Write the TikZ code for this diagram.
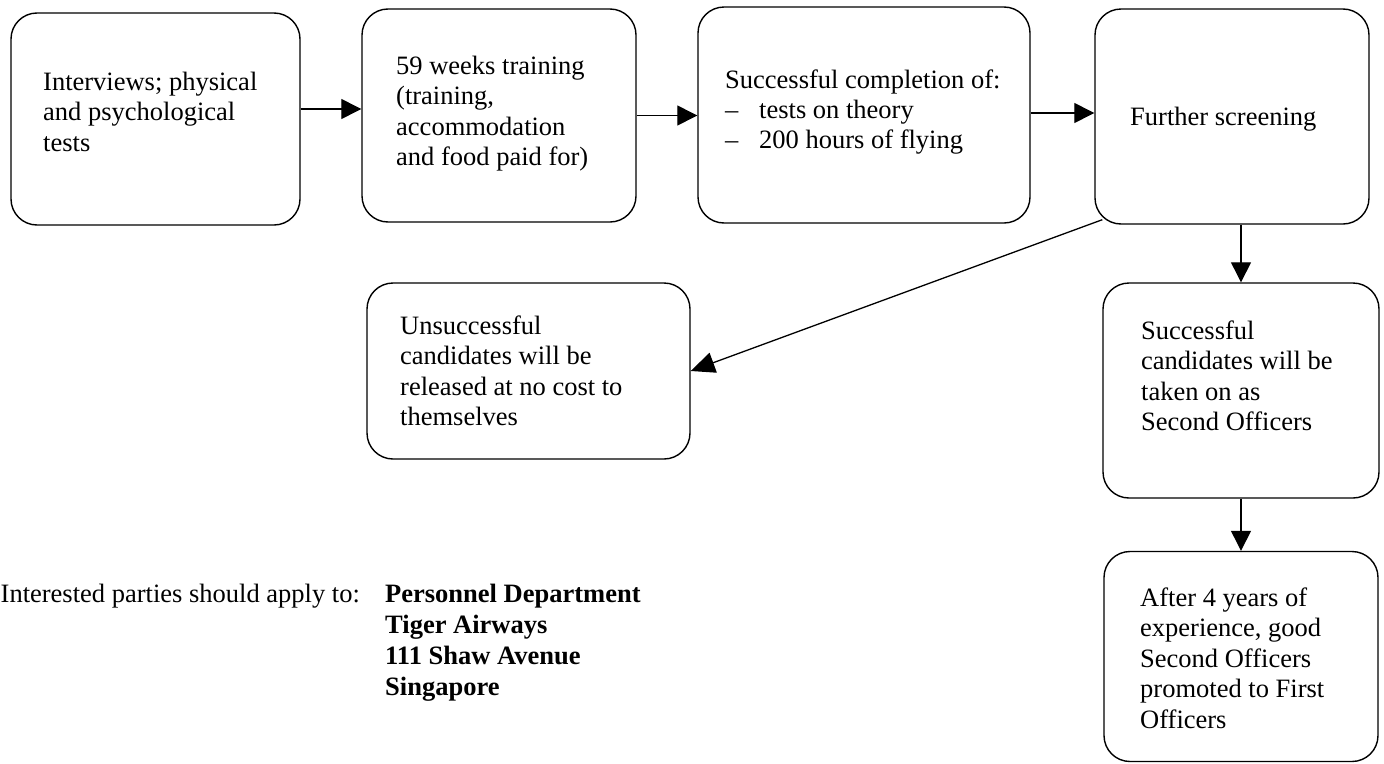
\documentclass[tikz,border=0pt]{standalone}
\usepackage{fontspec}
\setmainfont{Liberation Serif}
\usetikzlibrary{arrows.meta,positioning}

\tikzset{
    box/.style={draw, rounded corners=26pt, line width=1.4pt, inner sep=0pt},
    txt/.style={anchor=base west, align=left, inner sep=0pt, font=\fontsize{26.5}{30.5}\selectfont},
    arr/.style={-{Triangle[length=20pt,width=20pt]}, line width=1.3pt}
}

\begin{document}
\begin{tikzpicture}[x=1pt,y=-1pt]
    \useasboundingbox (0,0) rectangle (1384,763);
    % boxes
    \node[box, minimum width=289pt, minimum height=212pt] (b1) at (155.5,119) {};
    \node[box, minimum width=274pt, minimum height=213pt] (b2) at (499,115.5) {};
    \node[box, minimum width=332pt, minimum height=216pt] (b3) at (864,115) {};
    \node[box, minimum width=274pt, minimum height=215pt] (b4) at (1232,116.5) {};
    \node[box, minimum width=323pt, minimum height=176pt] (b5) at (528.5,371) {};
    \node[box, minimum width=276pt, minimum height=215pt] (b6) at (1241,390.5) {};
    \node[box, minimum width=274pt, minimum height=210pt] (b7) at (1241,656.5) {};
    % texts (anchored on the baseline of their last line)
    \node[txt] (t1) at (43,151) {Interviews; physical\\and psychological\\tests};
    \node[txt] (t2) at (396,165.5) {59 weeks training\\(training,\\accommodation\\and food paid for)};
    \node[txt, font=\fontsize{26.5}{30}\selectfont] (t3) at (725,148) {Successful completion of:\\\makebox[34pt][l]{–}tests on theory\\\makebox[34pt][l]{–}200 hours of flying};
    \node[txt] (t4) at (1130,125) {Further screening};
    \node[txt] (t5) at (400,425.5) {Unsuccessful\\candidates will be\\released at no cost to\\themselves};
    \node[txt] (t6) at (1141,430.5) {Successful\\candidates will be\\taken on as\\Second Officers};
    \node[txt] (t7) at (1140,728) {After 4 years of\\experience, good\\Second Officers\\promoted to First\\Officers};
    \node[txt] (apply) at (0.5,602) {Interested parties should apply to:};
    \node[txt, font=\fontsize{26.5}{31}\selectfont\bfseries] (addr) at (385,695) {Personnel Department\\Tiger Airways\\111 Shaw Avenue\\Singapore};
    % connectors
    \draw[arr] ([yshift=10pt]b1.east) -- ([yshift=10pt]b1.east -| b2.west);
    \draw[arr] (b2.east) -- (b2.east -| b3.west);
    \draw[arr] ([yshift=2pt]b3.east) -- ([yshift=2pt]b3.east -| b4.west);
    \draw[arr, -{Triangle[length=24pt,width=21pt]}] ([xshift=8pt,yshift=5pt]b4.south west) -- (b5.east);
    \draw[arr] (b6.north |- b4.south) -- (b6.north);
    \draw[arr] (b6.south) -- (b7.north);
\end{tikzpicture}
\end{document}
